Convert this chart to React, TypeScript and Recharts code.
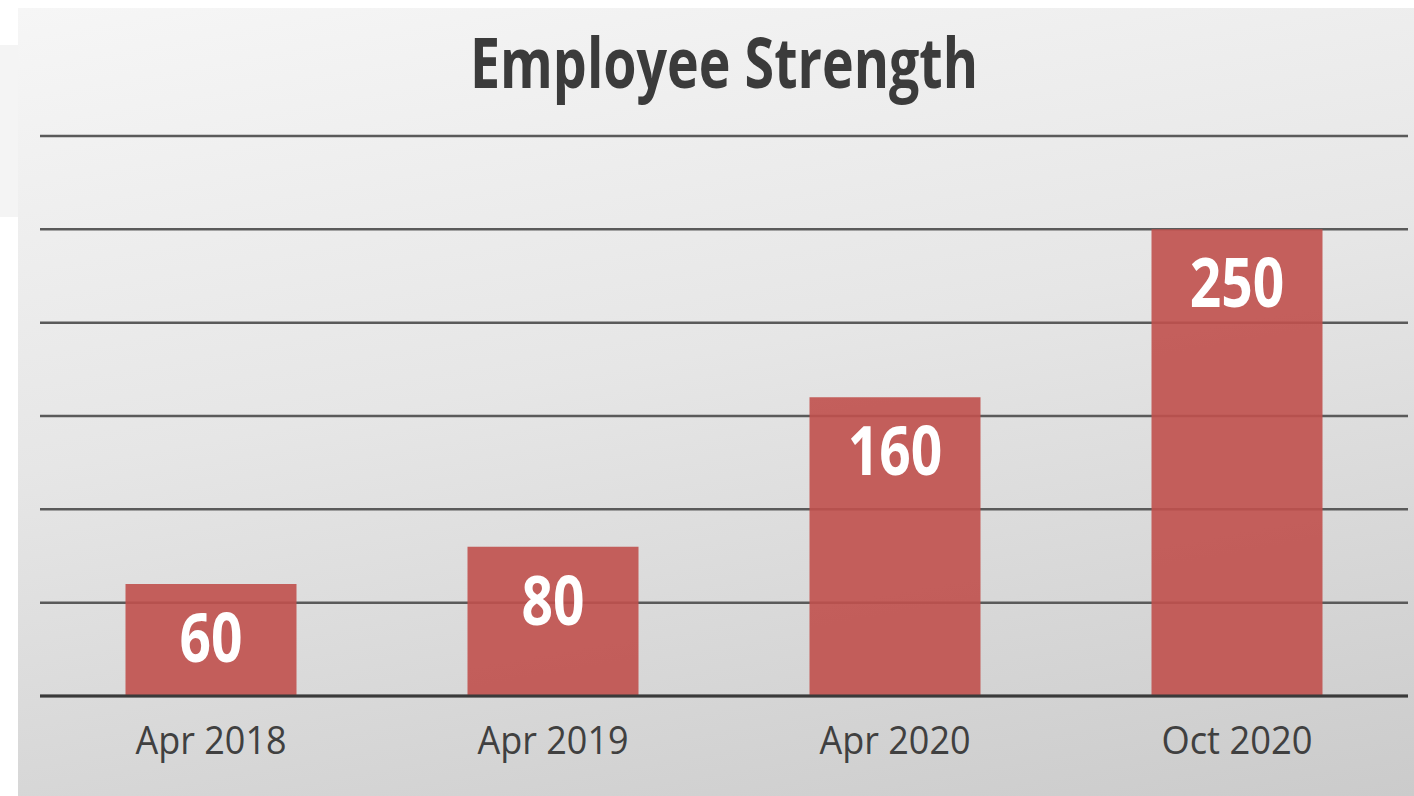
import { BarChart, Bar, XAxis, YAxis, CartesianGrid, LabelList } from "recharts";

const periods = ["Apr 2018", "Apr 2019", "Apr 2020", "Oct 2020"];
const employees = [60, 80, 160, 250];
const yTicks = [0, 50, 100, 150, 200, 250, 300];

const data = periods.map((p, i) => ({ period: p, count: employees[i] }));

const FONT = "'Open Sans', 'DejaVu Sans', sans-serif";

function PeriodTick(props: any) {
  const { x, y, payload } = props;
  return (
    <text
      x={x}
      y={y + 50}
      textAnchor="middle"
      fontFamily={FONT}
      fontSize={38}
      fill="#404040"
      textLength={151}
      lengthAdjust="spacingAndGlyphs"
    >
      {payload.value}
    </text>
  );
}

function CountLabel(props: any) {
  const { x, y, width, value } = props;
  const s = String(value);
  return (
    <text
      x={x + width / 2}
      y={y + 78}
      textAnchor="middle"
      fontFamily={FONT}
      fontWeight={700}
      fontSize={68}
      fill="#ffffff"
      textLength={s.length * 31.5}
      lengthAdjust="spacingAndGlyphs"
    >
      {s}
    </text>
  );
}

export default function App() {
  return (
    <div style={{ position: "absolute", left: 0, top: 0, width: 1414, height: 796, background: "#fff", overflow: "hidden" }}>
      <div style={{ position: "absolute", left: 0, top: 45, width: 18, height: 172, background: "#f4f4f4" }} />
      <div
        style={{
          position: "absolute",
          left: 18,
          top: 8,
          width: 1396,
          height: 788,
          background: "linear-gradient(170deg, #f6f6f6 0%, #e6e6e6 45%, #cbcbcb 100%)",
        }}
      />
      <div style={{ position: "absolute", left: 0, top: 0 }}>
        <BarChart width={1414} height={796} data={data} margin={{ top: 136, right: 6, bottom: 70, left: 40 }} barCategoryGap="25%">
          <text
            x={724}
            y={88}
            textAnchor="middle"
            fontFamily={FONT}
            fontWeight={700}
            fontSize={70}
            fill="#3b3b3b"
            textLength={508}
            lengthAdjust="spacingAndGlyphs"
          >
            Employee Strength
          </text>
          <CartesianGrid vertical={false} stroke="#5a5a5a" strokeWidth={2.5} />
          <YAxis hide domain={[0, 300]} ticks={yTicks} />
          <XAxis
            dataKey="period"
            tickLine={false}
            axisLine={{ stroke: "#3a3a3a", strokeWidth: 3 }}
            tick={<PeriodTick />}
            interval={0}
          />
          <Bar dataKey="count" fill="#c0504d" fillOpacity={0.9} isAnimationActive={false}>
            <LabelList dataKey="count" content={<CountLabel />} />
          </Bar>
        </BarChart>
      </div>
    </div>
  );
}
